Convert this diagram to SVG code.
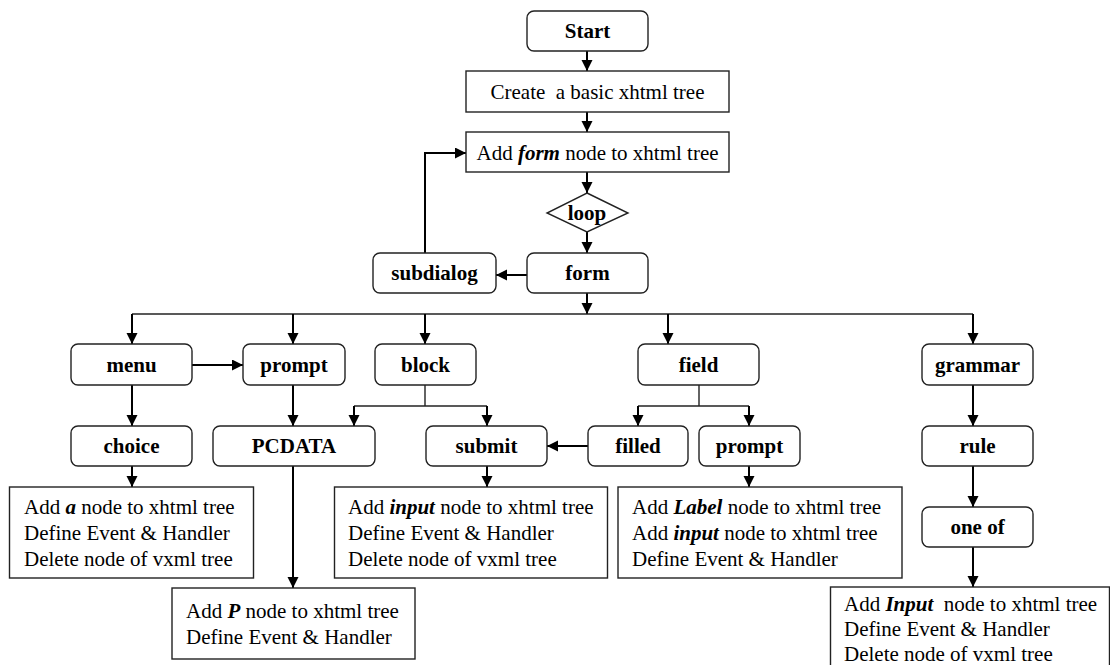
<svg xmlns="http://www.w3.org/2000/svg" width="1110" height="665" viewBox="0 0 1110 665" font-family="'Liberation Serif', 'Times New Roman', Times, 'DejaVu Serif', serif">
<style>
.nb{fill:#fff;stroke:#222;stroke-width:1.4}
.tb{fill:#fff;stroke:#222;stroke-width:1.4}
.lb{font-size:21px;font-weight:bold;text-anchor:middle;fill:#000}
.tx{font-size:21px;fill:#000;white-space:pre}
.em{font-weight:bold;font-style:italic}
.ar{fill:none;stroke:#000;stroke-width:2}
.th{fill:none;stroke:#222;stroke-width:1.4}
</style>
<defs>
<marker id="ah" markerUnits="userSpaceOnUse" markerWidth="12" markerHeight="12" refX="11" refY="5.5" orient="auto">
<path d="M0,0 L11,5.5 L0,11 z" fill="#000"/>
</marker>
</defs>
<g id="connectors">
<line class="ar" x1="587" y1="51" x2="587" y2="71" marker-end="url(#ah)"/>
<line class="ar" x1="587" y1="112" x2="587" y2="132" marker-end="url(#ah)"/>
<line class="ar" x1="587" y1="172" x2="587" y2="193" marker-end="url(#ah)"/>
<line class="ar" x1="587" y1="232" x2="587" y2="253" marker-end="url(#ah)"/>
<line class="ar" x1="527" y1="275" x2="496" y2="275" marker-end="url(#ah)"/>
<polyline class="ar" points="425,253 425,153 466,153" marker-end="url(#ah)"/>
<line class="ar" x1="587" y1="293" x2="587" y2="314" marker-end="url(#ah)"/>
<line class="th" x1="132" y1="314" x2="973" y2="314"/>
<line class="ar" x1="132" y1="314" x2="132" y2="344" marker-end="url(#ah)"/>
<line class="ar" x1="293" y1="314" x2="293" y2="344" marker-end="url(#ah)"/>
<line class="ar" x1="425" y1="314" x2="425" y2="344" marker-end="url(#ah)"/>
<line class="ar" x1="668" y1="314" x2="668" y2="344" marker-end="url(#ah)"/>
<line class="ar" x1="973" y1="314" x2="973" y2="344" marker-end="url(#ah)"/>
<line class="ar" x1="192" y1="365" x2="243" y2="365" marker-end="url(#ah)"/>
<line class="ar" x1="132" y1="385" x2="132" y2="426" marker-end="url(#ah)"/>
<line class="ar" x1="293" y1="385" x2="293" y2="426" marker-end="url(#ah)"/>
<polyline class="th" points="425,385 425,406"/>
<line class="th" x1="354" y1="406" x2="487" y2="406"/>
<line class="ar" x1="354" y1="406" x2="354" y2="426" marker-end="url(#ah)"/>
<line class="ar" x1="487" y1="406" x2="487" y2="426" marker-end="url(#ah)"/>
<polyline class="th" points="699,385 699,406"/>
<line class="th" x1="638" y1="406" x2="749" y2="406"/>
<line class="ar" x1="638" y1="406" x2="638" y2="426" marker-end="url(#ah)"/>
<line class="ar" x1="749" y1="406" x2="749" y2="426" marker-end="url(#ah)"/>
<line class="ar" x1="588" y1="446" x2="547" y2="446" marker-end="url(#ah)"/>
<line class="ar" x1="973" y1="385" x2="973" y2="426" marker-end="url(#ah)"/>
<line class="ar" x1="973" y1="466" x2="973" y2="507" marker-end="url(#ah)"/>
<line class="ar" x1="132" y1="466" x2="132" y2="487" marker-end="url(#ah)"/>
<line class="ar" x1="293" y1="466" x2="293" y2="588" marker-end="url(#ah)"/>
<line class="ar" x1="487" y1="466" x2="487" y2="487" marker-end="url(#ah)"/>
<line class="ar" x1="749" y1="466" x2="749" y2="487" marker-end="url(#ah)"/>
<line class="ar" x1="973" y1="547" x2="973" y2="587" marker-end="url(#ah)"/>
</g>
<g id="start"><rect class="nb" x="527" y="11" width="121" height="40" rx="7"/><text class="lb" x="587.5" y="38">Start</text></g>
<g id="create"><rect class="tb" x="466" y="71" width="263" height="41"/><text class="tx" x="597.5" y="99" text-anchor="middle">Create  a basic xhtml tree</text></g>
<g id="addform"><rect class="tb" x="466" y="132" width="263" height="40"/><text class="tx" x="597.5" y="160" text-anchor="middle">Add <tspan class="em">form</tspan> node to xhtml tree</text></g>
<g id="loop"><polygon class="nb" points="587,193 628,213 587,232 547,213"/><text class="lb" x="587" y="220">loop</text></g>
<g id="form"><rect class="nb" x="527" y="253" width="121" height="40" rx="7"/><text class="lb" x="587.5" y="280">form</text></g>
<g id="subdialog"><rect class="nb" x="373" y="253" width="123" height="40" rx="7"/><text class="lb" x="434.5" y="280">subdialog</text></g>
<g id="menu"><rect class="nb" x="71" y="344" width="121" height="41" rx="7"/><text class="lb" x="131.5" y="372">menu</text></g>
<g id="prompt1"><rect class="nb" x="243" y="344" width="102" height="41" rx="7"/><text class="lb" x="294" y="372">prompt</text></g>
<g id="block"><rect class="nb" x="375" y="344" width="101" height="41" rx="7"/><text class="lb" x="425.5" y="372">block</text></g>
<g id="field"><rect class="nb" x="638" y="344" width="121" height="41" rx="7"/><text class="lb" x="698.5" y="372">field</text></g>
<g id="grammar"><rect class="nb" x="922" y="344" width="111" height="41" rx="7"/><text class="lb" x="977.5" y="372">grammar</text></g>
<g id="choice"><rect class="nb" x="71" y="426" width="121" height="40" rx="7"/><text class="lb" x="131.5" y="453">choice</text></g>
<g id="pcdata"><rect class="nb" x="213" y="426" width="162" height="40" rx="7"/><text class="lb" x="294" y="453">PCDATA</text></g>
<g id="submit"><rect class="nb" x="426" y="426" width="121" height="40" rx="7"/><text class="lb" x="486.5" y="453">submit</text></g>
<g id="filled"><rect class="nb" x="588" y="426" width="100" height="40" rx="7"/><text class="lb" x="638" y="453">filled</text></g>
<g id="prompt2"><rect class="nb" x="699" y="426" width="101" height="40" rx="7"/><text class="lb" x="749.5" y="453">prompt</text></g>
<g id="rule"><rect class="nb" x="922" y="426" width="111" height="40" rx="7"/><text class="lb" x="977.5" y="453">rule</text></g>
<g id="oneof"><rect class="nb" x="922" y="507" width="111" height="40" rx="7"/><text class="lb" x="977.5" y="534">one of</text></g>
<g id="box-a"><rect class="tb" x="9.5" y="487" width="244" height="91"/>
<text class="tx" x="24" y="514">Add <tspan class="em">a</tspan> node to xhtml tree</text>
<text class="tx" x="24" y="540">Define Event &amp; Handler</text>
<text class="tx" x="24" y="566">Delete node of vxml tree</text></g>
<g id="box-p"><rect class="tb" x="172" y="588" width="243" height="71"/>
<text class="tx" x="186" y="618">Add <tspan class="em">P</tspan> node to xhtml tree</text>
<text class="tx" x="186" y="644">Define Event &amp; Handler</text></g>
<g id="box-input"><rect class="tb" x="334.5" y="487" width="273" height="91"/>
<text class="tx" x="348" y="514">Add <tspan class="em">input</tspan> node to xhtml tree</text>
<text class="tx" x="348" y="540">Define Event &amp; Handler</text>
<text class="tx" x="348" y="566">Delete node of vxml tree</text></g>
<g id="box-label"><rect class="tb" x="618" y="487" width="284" height="91"/>
<text class="tx" x="632" y="514">Add <tspan class="em">Label</tspan> node to xhtml tree</text>
<text class="tx" x="632" y="540">Add <tspan class="em">input</tspan> node to xhtml tree</text>
<text class="tx" x="632" y="566">Define Event &amp; Handler</text></g>
<g id="box-Input"><rect class="tb" x="830.5" y="587" width="279" height="85"/>
<text class="tx" x="844" y="611">Add <tspan class="em">Input</tspan>  node to xhtml tree</text>
<text class="tx" x="844" y="636">Define Event &amp; Handler</text>
<text class="tx" x="844" y="661">Delete node of vxml tree</text></g>
</svg>
